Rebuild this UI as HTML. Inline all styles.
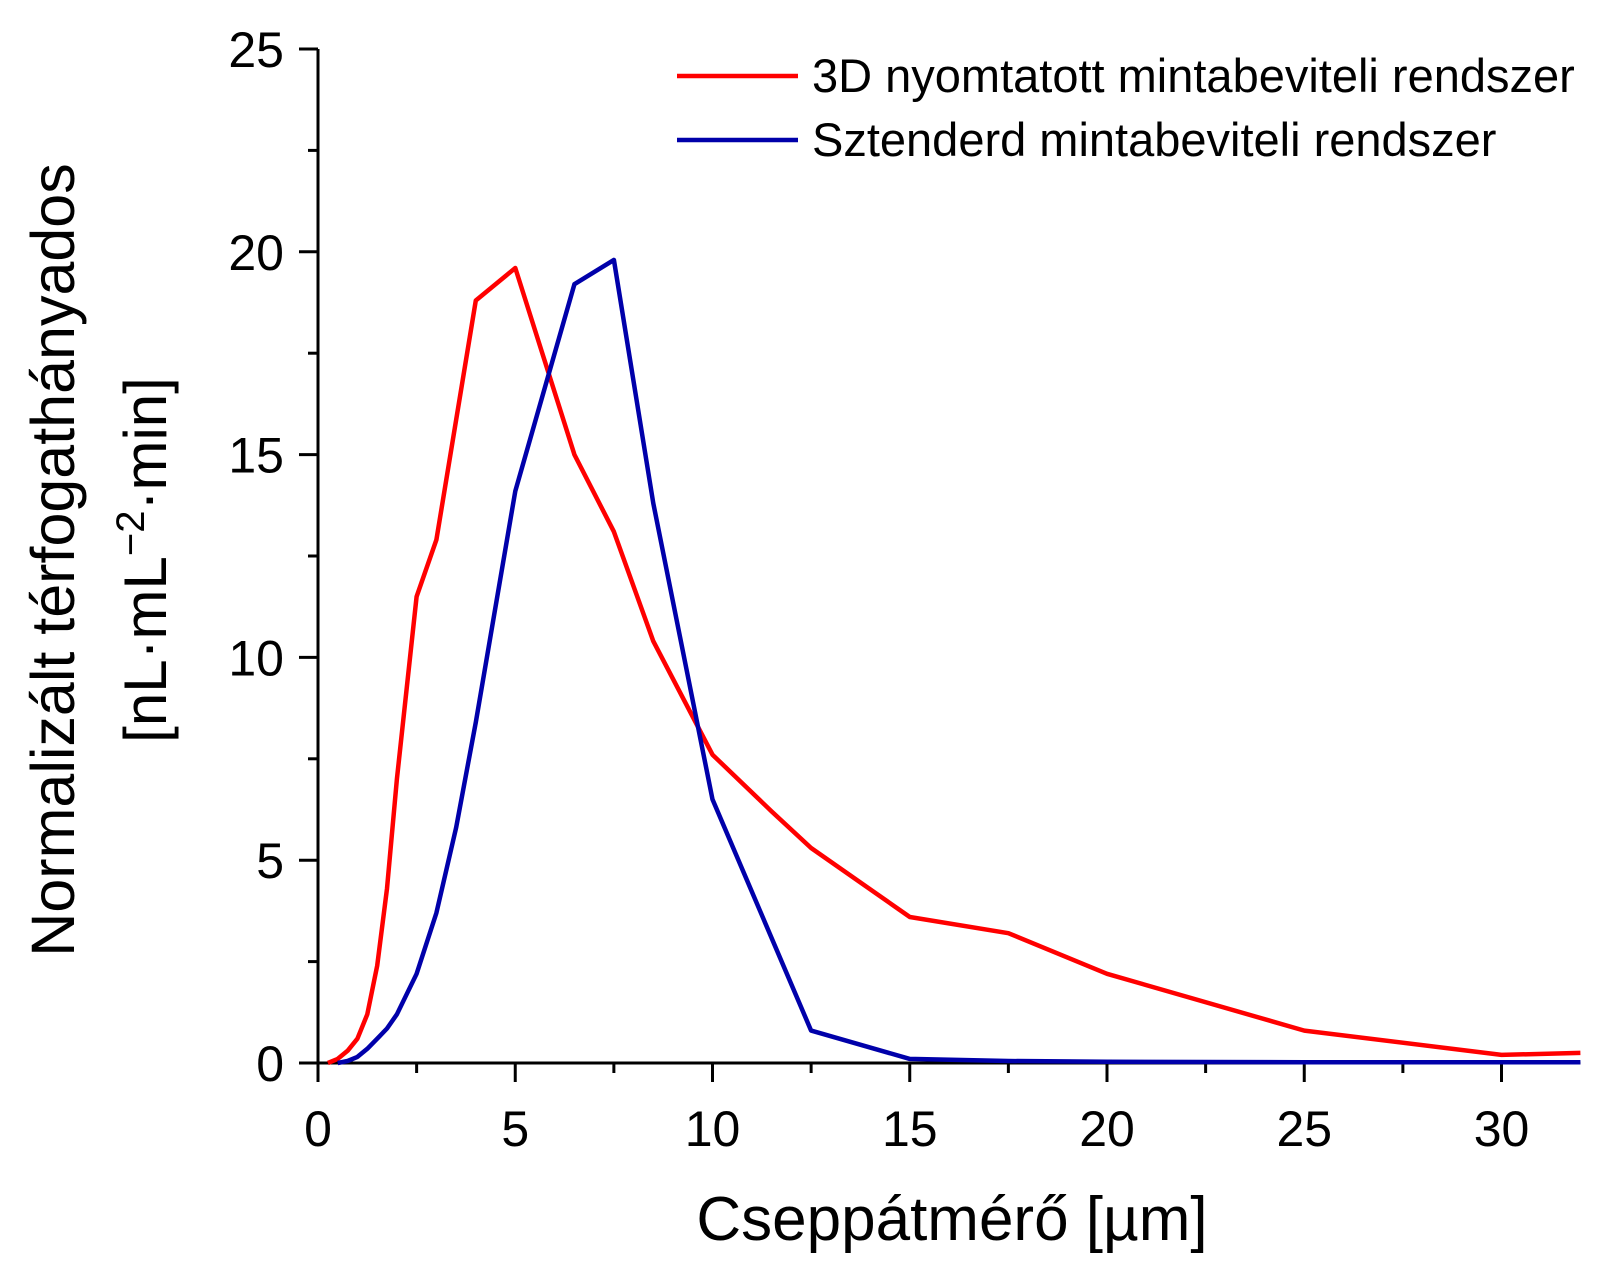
<!DOCTYPE html>
<html><head><meta charset="utf-8"><style>
body{margin:0;background:#fff}
svg text{font-family:"Liberation Sans",Arial,sans-serif;fill:#000}
</style></head><body>
<svg id="chart" width="1601" height="1273" viewBox="0 0 1601 1273" xmlns="http://www.w3.org/2000/svg"></svg>
<script>
const redX=[0.25,0.5,0.75,1,1.25,1.5,1.75,2,2.5,3,4,5,6.5,7.5,8.5,10,11.5,12.5,15,17.5,20,25,30,32];
const redY=[0,0.1,0.3,0.6,1.2,2.4,4.3,7,11.5,12.9,18.8,19.6,15,13.1,10.4,7.6,6.2,5.3,3.6,3.2,2.2,0.8,0.2,0.25];
const blueX=[0.5,0.75,1,1.25,1.5,1.75,2,2.5,3,3.5,4,5,6.5,7.5,8.5,10,12.5,15,17.5,20,25,30,32];
const blueY=[0,0.05,0.15,0.35,0.6,0.85,1.2,2.2,3.7,5.8,8.4,14.1,19.2,19.8,13.8,6.5,0.8,0.1,0.05,0.03,0.02,0.02,0.02];
const xTicks=[0,5,10,15,20,25,30];
const yTicks=[0,5,10,15,20,25];
const seriesNames=["3D nyomtatott mintabeviteli rendszer","Sztenderd mintabeviteli rendszer"];

const svg=document.getElementById('chart');
const NS='http://www.w3.org/2000/svg';
const X0=318,XS=39.45,Y0=1063,YS=40.56;
const sx=v=>X0+v*XS, sy=v=>Y0-v*YS;
function mk(tag,attrs,parent){const e=document.createElementNS(NS,tag);for(const k in attrs)e.setAttribute(k,attrs[k]);(parent||svg).appendChild(e);return e;}

let ax=mk('line',{x1:X0,y1:sy(25),x2:X0,y2:Y0+1,stroke:'#000','stroke-width':3});


let axx=mk('line',{x1:X0-1,y1:Y0,x2:sx(32),y2:Y0,stroke:'#000','stroke-width':3});



for(let v=0;v<=32;v+=2.5){
  const major=v%5===0;
  const t=mk('line',{x1:sx(v),y1:Y0,x2:sx(v),y2:Y0+(major?19:10),stroke:'#000','stroke-width':3});
  
  
}
for(let v=0;v<=25;v+=2.5){
  const major=v%5===0;
  const t=mk('line',{x1:X0-(major?19:10),y1:sy(v),x2:X0,y2:sy(v),stroke:'#000','stroke-width':3});
  
  
}
xTicks.forEach(v=>{
  const t=mk('text',{x:sx(v),y:1146,'text-anchor':'middle','font-size':50});
  t.textContent=v;
  
  
});
yTicks.forEach(v=>{
  const t=mk('text',{x:X0-34,y:sy(v)+18,'text-anchor':'end','font-size':50});
  t.textContent=v;
  
  
});

function line(xs,ys,color,name){
  const d=xs.map((x,i)=>(i?'L':'M')+sx(x).toFixed(1)+','+sy(ys[i]).toFixed(1)).join(' ');
  const p=mk('path',{d:d,fill:'none',stroke:color,'stroke-width':4.5,'stroke-linejoin':'round'});
  
  
}
line(redX,redY,'#ff0000','series-3d-printed');
line(blueX,blueY,'#0000aa','series-standard');

[['#ff0000',76],['#0000aa',140]].forEach((c,i)=>{
  const l=mk('line',{x1:677,y1:c[1],x2:798,y2:c[1],stroke:c[0],'stroke-width':4.5});
  
  
  const t=mk('text',{x:812,y:c[1]+16,'font-size':47});
  t.textContent=seriesNames[i];
  
  
});

let xt=mk('text',{x:952,y:1240,'text-anchor':'middle','font-size':62});
xt.textContent='Cseppátmérő [µm]';


let yt=mk('text',{transform:'translate(74,560) rotate(-90)','text-anchor':'middle','font-size':61});
yt.textContent='Normalizált térfogathányados';


let yt2=mk('text',{transform:'translate(166,560) rotate(-90)','text-anchor':'middle','font-size':60});
yt2.innerHTML='[nL·mL<tspan dy="-22" font-size="40">−2</tspan><tspan dy="22">·min]</tspan>';


</script>
</body></html>
